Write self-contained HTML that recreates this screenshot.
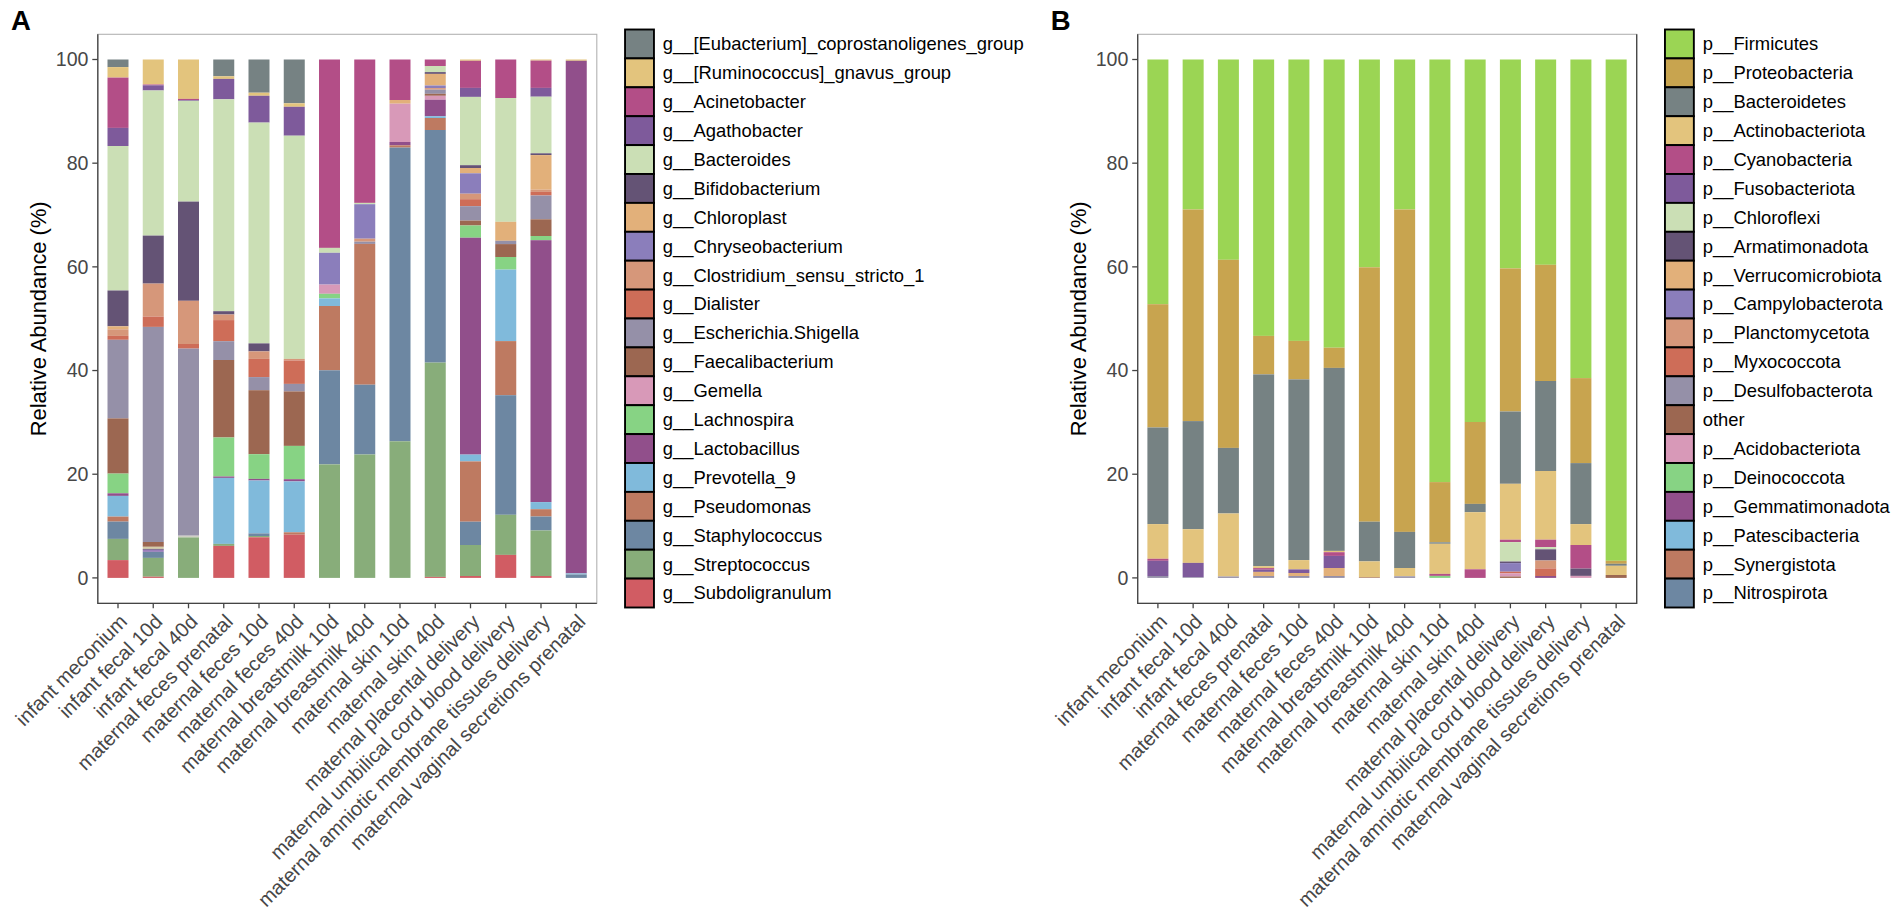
<!DOCTYPE html>
<html lang="en"><head><meta charset="utf-8"><title>Relative abundance</title>
<style>
html,body{margin:0;padding:0;background:#fff;}
svg{display:block;font-family:"Liberation Sans",Arial,Helvetica,sans-serif;}
</style></head><body>
<svg width="1901" height="918" viewBox="0 0 1901 918">
<rect width="1901" height="918" fill="#fff"/>
<g transform="translate(0,0)">
<rect x="107.5" y="59.5" width="21" height="7.6" fill="#768283"/>
<rect x="107.5" y="67.1" width="21" height="10.5" fill="#E3C47D"/>
<rect x="107.5" y="77.6" width="21" height="50.3" fill="#B34E87"/>
<rect x="107.5" y="127.9" width="21" height="18.1" fill="#7E5A9B"/>
<rect x="107.5" y="146" width="21" height="144.5" fill="#CBDFB5"/>
<rect x="107.5" y="290.5" width="21" height="35.8" fill="#645375"/>
<rect x="107.5" y="326.3" width="21" height="3" fill="#E2B07A"/>
<rect x="107.5" y="329.3" width="21" height="6.6" fill="#D6977A"/>
<rect x="107.5" y="335.9" width="21" height="3.9" fill="#CE6D58"/>
<rect x="107.5" y="339.8" width="21" height="78.6" fill="#9590A8"/>
<rect x="107.5" y="418.4" width="21" height="55.2" fill="#9C6751"/>
<rect x="107.5" y="473.6" width="21" height="19.7" fill="#87D384"/>
<rect x="107.5" y="493.3" width="21" height="2.6" fill="#914F8B"/>
<rect x="107.5" y="495.9" width="21" height="20.7" fill="#80BADB"/>
<rect x="107.5" y="516.6" width="21" height="5" fill="#BE7A61"/>
<rect x="107.5" y="521.6" width="21" height="17.3" fill="#6D87A2"/>
<rect x="107.5" y="538.9" width="21" height="21.2" fill="#88AD7A"/>
<rect x="107.5" y="560.1" width="21" height="17.8" fill="#D15C63"/>
<rect x="142.75" y="59.5" width="21" height="25" fill="#E3C47D"/>
<rect x="142.75" y="84.5" width="21" height="0.8" fill="#B34E87"/>
<rect x="142.75" y="85.3" width="21" height="5.2" fill="#7E5A9B"/>
<rect x="142.75" y="90.5" width="21" height="145.1" fill="#CBDFB5"/>
<rect x="142.75" y="235.6" width="21" height="48" fill="#645375"/>
<rect x="142.75" y="283.6" width="21" height="33" fill="#D6977A"/>
<rect x="142.75" y="316.6" width="21" height="10.3" fill="#CE6D58"/>
<rect x="142.75" y="326.9" width="21" height="215.1" fill="#9590A8"/>
<rect x="142.75" y="542" width="21" height="4.8" fill="#9C6751"/>
<rect x="142.75" y="546.8" width="21" height="2.1" fill="#D4CDA8"/>
<rect x="142.75" y="548.9" width="21" height="0.9" fill="#645375"/>
<rect x="142.75" y="549.8" width="21" height="2.1" fill="#9B7DBB"/>
<rect x="142.75" y="551.9" width="21" height="6" fill="#6D87A2"/>
<rect x="142.75" y="557.9" width="21" height="18.8" fill="#88AD7A"/>
<rect x="142.75" y="576.7" width="21" height="1.2" fill="#D15C63"/>
<rect x="178" y="59.5" width="21" height="39.4" fill="#E3C47D"/>
<rect x="178" y="98.9" width="21" height="1.1" fill="#B34E87"/>
<rect x="178" y="100" width="21" height="0.8" fill="#7E5A9B"/>
<rect x="178" y="100.8" width="21" height="100.8" fill="#CBDFB5"/>
<rect x="178" y="201.6" width="21" height="99.2" fill="#645375"/>
<rect x="178" y="300.8" width="21" height="43.2" fill="#D6977A"/>
<rect x="178" y="344" width="21" height="4.6" fill="#CE6D58"/>
<rect x="178" y="348.6" width="21" height="187.1" fill="#9590A8"/>
<rect x="178" y="535.7" width="21" height="1.7" fill="#CFCFC4"/>
<rect x="178" y="537.4" width="21" height="40.5" fill="#88AD7A"/>
<rect x="213.25" y="59.5" width="21" height="16.8" fill="#768283"/>
<rect x="213.25" y="76.3" width="21" height="2.6" fill="#E3C47D"/>
<rect x="213.25" y="78.9" width="21" height="20.4" fill="#7E5A9B"/>
<rect x="213.25" y="99.3" width="21" height="211.9" fill="#CBDFB5"/>
<rect x="213.25" y="311.2" width="21" height="3.3" fill="#645375"/>
<rect x="213.25" y="314.5" width="21" height="5.6" fill="#D6977A"/>
<rect x="213.25" y="320.1" width="21" height="21.1" fill="#CE6D58"/>
<rect x="213.25" y="341.2" width="21" height="18.8" fill="#9590A8"/>
<rect x="213.25" y="360" width="21" height="77.5" fill="#9C6751"/>
<rect x="213.25" y="437.5" width="21" height="39" fill="#87D384"/>
<rect x="213.25" y="476.5" width="21" height="1.4" fill="#914F8B"/>
<rect x="213.25" y="477.9" width="21" height="66" fill="#80BADB"/>
<rect x="213.25" y="543.9" width="21" height="2" fill="#88AD7A"/>
<rect x="213.25" y="545.9" width="21" height="32" fill="#D15C63"/>
<rect x="248.5" y="59.5" width="21" height="33.2" fill="#768283"/>
<rect x="248.5" y="92.7" width="21" height="3.1" fill="#E3C47D"/>
<rect x="248.5" y="95.8" width="21" height="26.8" fill="#7E5A9B"/>
<rect x="248.5" y="122.6" width="21" height="220.8" fill="#CBDFB5"/>
<rect x="248.5" y="343.4" width="21" height="8" fill="#645375"/>
<rect x="248.5" y="351.4" width="21" height="7.5" fill="#D6977A"/>
<rect x="248.5" y="358.9" width="21" height="18.2" fill="#CE6D58"/>
<rect x="248.5" y="377.1" width="21" height="13.1" fill="#9590A8"/>
<rect x="248.5" y="390.2" width="21" height="64" fill="#9C6751"/>
<rect x="248.5" y="454.2" width="21" height="24.7" fill="#87D384"/>
<rect x="248.5" y="478.9" width="21" height="1.6" fill="#914F8B"/>
<rect x="248.5" y="480.5" width="21" height="52.9" fill="#80BADB"/>
<rect x="248.5" y="533.4" width="21" height="2.6" fill="#6D87A2"/>
<rect x="248.5" y="536" width="21" height="1.3" fill="#88AD7A"/>
<rect x="248.5" y="537.3" width="21" height="40.6" fill="#D15C63"/>
<rect x="283.75" y="59.5" width="21" height="43.8" fill="#768283"/>
<rect x="283.75" y="103.3" width="21" height="3.5" fill="#E3C47D"/>
<rect x="283.75" y="106.8" width="21" height="28.9" fill="#7E5A9B"/>
<rect x="283.75" y="135.7" width="21" height="223.2" fill="#CBDFB5"/>
<rect x="283.75" y="358.9" width="21" height="1.6" fill="#D6977A"/>
<rect x="283.75" y="360.5" width="21" height="23.4" fill="#CE6D58"/>
<rect x="283.75" y="383.9" width="21" height="7.5" fill="#9590A8"/>
<rect x="283.75" y="391.4" width="21" height="54.5" fill="#9C6751"/>
<rect x="283.75" y="445.9" width="21" height="33.3" fill="#87D384"/>
<rect x="283.75" y="479.2" width="21" height="2.2" fill="#914F8B"/>
<rect x="283.75" y="481.4" width="21" height="50.9" fill="#80BADB"/>
<rect x="283.75" y="532.3" width="21" height="2.4" fill="#BE7A61"/>
<rect x="283.75" y="534.7" width="21" height="43.2" fill="#D15C63"/>
<rect x="319" y="59.5" width="21" height="188.4" fill="#B34E87"/>
<rect x="319" y="247.9" width="21" height="4.9" fill="#CBDFB5"/>
<rect x="319" y="252.8" width="21" height="31.8" fill="#8B7EBB"/>
<rect x="319" y="284.6" width="21" height="9.2" fill="#D899B8"/>
<rect x="319" y="293.8" width="21" height="4.6" fill="#87D384"/>
<rect x="319" y="298.4" width="21" height="7.6" fill="#80BADB"/>
<rect x="319" y="306" width="21" height="64.3" fill="#BE7A61"/>
<rect x="319" y="370.3" width="21" height="94.1" fill="#6D87A2"/>
<rect x="319" y="464.4" width="21" height="113.5" fill="#88AD7A"/>
<rect x="354.25" y="59.5" width="21" height="143.4" fill="#B34E87"/>
<rect x="354.25" y="202.9" width="21" height="1.3" fill="#CBDFB5"/>
<rect x="354.25" y="204.2" width="21" height="34.5" fill="#8B7EBB"/>
<rect x="354.25" y="238.7" width="21" height="3" fill="#D6977A"/>
<rect x="354.25" y="241.7" width="21" height="2.2" fill="#9590A8"/>
<rect x="354.25" y="243.9" width="21" height="140.8" fill="#BE7A61"/>
<rect x="354.25" y="384.7" width="21" height="69.8" fill="#6D87A2"/>
<rect x="354.25" y="454.5" width="21" height="123.4" fill="#88AD7A"/>
<rect x="389.5" y="59.5" width="21" height="40.5" fill="#B34E87"/>
<rect x="389.5" y="100" width="21" height="3.7" fill="#E2B07A"/>
<rect x="389.5" y="103.7" width="21" height="38.3" fill="#D899B8"/>
<rect x="389.5" y="142" width="21" height="3.3" fill="#914F8B"/>
<rect x="389.5" y="145.3" width="21" height="2.3" fill="#BE7A61"/>
<rect x="389.5" y="147.6" width="21" height="293.7" fill="#6D87A2"/>
<rect x="389.5" y="441.3" width="21" height="136.6" fill="#88AD7A"/>
<rect x="424.75" y="59.5" width="21" height="6.5" fill="#B34E87"/>
<rect x="424.75" y="66" width="21" height="6.1" fill="#CBDFB5"/>
<rect x="424.75" y="72.1" width="21" height="1.8" fill="#645375"/>
<rect x="424.75" y="73.9" width="21" height="11.6" fill="#E2B07A"/>
<rect x="424.75" y="85.5" width="21" height="2.6" fill="#8B7EBB"/>
<rect x="424.75" y="88.1" width="21" height="1.6" fill="#D6977A"/>
<rect x="424.75" y="89.7" width="21" height="4.1" fill="#9590A8"/>
<rect x="424.75" y="93.8" width="21" height="2" fill="#9C6751"/>
<rect x="424.75" y="95.8" width="21" height="3.9" fill="#D899B8"/>
<rect x="424.75" y="99.7" width="21" height="16.5" fill="#914F8B"/>
<rect x="424.75" y="116.2" width="21" height="1.8" fill="#80BADB"/>
<rect x="424.75" y="118" width="21" height="12" fill="#BE7A61"/>
<rect x="424.75" y="130" width="21" height="232.6" fill="#6D87A2"/>
<rect x="424.75" y="362.6" width="21" height="214.3" fill="#88AD7A"/>
<rect x="424.75" y="576.9" width="21" height="1" fill="#D15C63"/>
<rect x="460" y="59.5" width="21" height="1.3" fill="#E3C47D"/>
<rect x="460" y="60.8" width="21" height="27.1" fill="#B34E87"/>
<rect x="460" y="87.9" width="21" height="9" fill="#7E5A9B"/>
<rect x="460" y="96.9" width="21" height="68.3" fill="#CBDFB5"/>
<rect x="460" y="165.2" width="21" height="2.8" fill="#645375"/>
<rect x="460" y="168" width="21" height="5.3" fill="#E2B07A"/>
<rect x="460" y="173.3" width="21" height="20.4" fill="#8B7EBB"/>
<rect x="460" y="193.7" width="21" height="5.5" fill="#D6977A"/>
<rect x="460" y="199.2" width="21" height="7" fill="#CE6D58"/>
<rect x="460" y="206.2" width="21" height="14.4" fill="#9590A8"/>
<rect x="460" y="220.6" width="21" height="4.9" fill="#9C6751"/>
<rect x="460" y="225.5" width="21" height="12.2" fill="#87D384"/>
<rect x="460" y="237.7" width="21" height="216.9" fill="#914F8B"/>
<rect x="460" y="454.6" width="21" height="6.8" fill="#80BADB"/>
<rect x="460" y="461.4" width="21" height="60.3" fill="#BE7A61"/>
<rect x="460" y="521.7" width="21" height="23.3" fill="#6D87A2"/>
<rect x="460" y="545" width="21" height="31" fill="#88AD7A"/>
<rect x="460" y="576" width="21" height="1.9" fill="#D15C63"/>
<rect x="495.25" y="59.5" width="21" height="38.5" fill="#B34E87"/>
<rect x="495.25" y="98" width="21" height="123.8" fill="#CBDFB5"/>
<rect x="495.25" y="221.8" width="21" height="19" fill="#E2B07A"/>
<rect x="495.25" y="240.8" width="21" height="3.3" fill="#9590A8"/>
<rect x="495.25" y="244.1" width="21" height="12.9" fill="#9C6751"/>
<rect x="495.25" y="257" width="21" height="12.6" fill="#87D384"/>
<rect x="495.25" y="269.6" width="21" height="71.5" fill="#80BADB"/>
<rect x="495.25" y="341.1" width="21" height="54.1" fill="#BE7A61"/>
<rect x="495.25" y="395.2" width="21" height="119.6" fill="#6D87A2"/>
<rect x="495.25" y="514.8" width="21" height="40.1" fill="#88AD7A"/>
<rect x="495.25" y="554.9" width="21" height="23" fill="#D15C63"/>
<rect x="530.5" y="59.5" width="21" height="1.1" fill="#E3C47D"/>
<rect x="530.5" y="60.6" width="21" height="27.3" fill="#B34E87"/>
<rect x="530.5" y="87.9" width="21" height="8.8" fill="#7E5A9B"/>
<rect x="530.5" y="96.7" width="21" height="56.6" fill="#CBDFB5"/>
<rect x="530.5" y="153.3" width="21" height="1.8" fill="#645375"/>
<rect x="530.5" y="155.1" width="21" height="34.6" fill="#E2B07A"/>
<rect x="530.5" y="189.7" width="21" height="2.2" fill="#D6977A"/>
<rect x="530.5" y="191.9" width="21" height="3.6" fill="#CE6D58"/>
<rect x="530.5" y="195.5" width="21" height="23.8" fill="#9590A8"/>
<rect x="530.5" y="219.3" width="21" height="16.7" fill="#9C6751"/>
<rect x="530.5" y="236" width="21" height="4.2" fill="#87D384"/>
<rect x="530.5" y="240.2" width="21" height="261.9" fill="#914F8B"/>
<rect x="530.5" y="502.1" width="21" height="7.1" fill="#80BADB"/>
<rect x="530.5" y="509.2" width="21" height="7.3" fill="#BE7A61"/>
<rect x="530.5" y="516.5" width="21" height="14" fill="#6D87A2"/>
<rect x="530.5" y="530.5" width="21" height="45.5" fill="#88AD7A"/>
<rect x="530.5" y="576" width="21" height="1.9" fill="#D15C63"/>
<rect x="565.75" y="59.5" width="21" height="1.3" fill="#E3C47D"/>
<rect x="565.75" y="60.8" width="21" height="512.6" fill="#914F8B"/>
<rect x="565.75" y="573.4" width="21" height="1.1" fill="#80BADB"/>
<rect x="565.75" y="574.5" width="21" height="3.4" fill="#6D87A2"/>
<rect x="97.8" y="34.3" width="499" height="569" fill="none" stroke="#B3B3B3" stroke-width="1.1"/>
<path d="M97.8 34.3V603.3H596.8" fill="none" stroke="#444444" stroke-width="1.3"/>
<path d="M92.3 577.9H97.8" stroke="#444444" stroke-width="1.3"/>
<text x="88.5" y="584.6" text-anchor="end" font-size="19.6" fill="#474747">0</text>
<path d="M92.3 474.22H97.8" stroke="#444444" stroke-width="1.3"/>
<text x="88.5" y="480.92" text-anchor="end" font-size="19.6" fill="#474747">20</text>
<path d="M92.3 370.54H97.8" stroke="#444444" stroke-width="1.3"/>
<text x="88.5" y="377.24" text-anchor="end" font-size="19.6" fill="#474747">40</text>
<path d="M92.3 266.86H97.8" stroke="#444444" stroke-width="1.3"/>
<text x="88.5" y="273.56" text-anchor="end" font-size="19.6" fill="#474747">60</text>
<path d="M92.3 163.18H97.8" stroke="#444444" stroke-width="1.3"/>
<text x="88.5" y="169.88" text-anchor="end" font-size="19.6" fill="#474747">80</text>
<path d="M92.3 59.5H97.8" stroke="#444444" stroke-width="1.3"/>
<text x="88.5" y="66.2" text-anchor="end" font-size="19.6" fill="#474747">100</text>
<path d="M118 603.3V608.3" stroke="#444444" stroke-width="1.3"/>
<text transform="translate(118.1,612.7) rotate(-45)" y="14.47" text-anchor="end" font-size="20.1" fill="#474747">infant meconium</text>
<path d="M153.25 603.3V608.3" stroke="#444444" stroke-width="1.3"/>
<text transform="translate(153.35,612.7) rotate(-45)" y="14.47" text-anchor="end" font-size="20.1" fill="#474747">infant fecal 10d</text>
<path d="M188.5 603.3V608.3" stroke="#444444" stroke-width="1.3"/>
<text transform="translate(188.6,612.7) rotate(-45)" y="14.47" text-anchor="end" font-size="20.1" fill="#474747">infant fecal 40d</text>
<path d="M223.75 603.3V608.3" stroke="#444444" stroke-width="1.3"/>
<text transform="translate(223.85,612.7) rotate(-45)" y="14.47" text-anchor="end" font-size="20.1" fill="#474747">maternal feces prenatal</text>
<path d="M259 603.3V608.3" stroke="#444444" stroke-width="1.3"/>
<text transform="translate(259.1,612.7) rotate(-45)" y="14.47" text-anchor="end" font-size="20.1" fill="#474747">maternal feces 10d</text>
<path d="M294.25 603.3V608.3" stroke="#444444" stroke-width="1.3"/>
<text transform="translate(294.35,612.7) rotate(-45)" y="14.47" text-anchor="end" font-size="20.1" fill="#474747">maternal feces 40d</text>
<path d="M329.5 603.3V608.3" stroke="#444444" stroke-width="1.3"/>
<text transform="translate(329.6,612.7) rotate(-45)" y="14.47" text-anchor="end" font-size="20.1" fill="#474747">maternal breastmilk 10d</text>
<path d="M364.75 603.3V608.3" stroke="#444444" stroke-width="1.3"/>
<text transform="translate(364.85,612.7) rotate(-45)" y="14.47" text-anchor="end" font-size="20.1" fill="#474747">maternal breastmilk 40d</text>
<path d="M400 603.3V608.3" stroke="#444444" stroke-width="1.3"/>
<text transform="translate(400.1,612.7) rotate(-45)" y="14.47" text-anchor="end" font-size="20.1" fill="#474747">maternal skin 10d</text>
<path d="M435.25 603.3V608.3" stroke="#444444" stroke-width="1.3"/>
<text transform="translate(435.35,612.7) rotate(-45)" y="14.47" text-anchor="end" font-size="20.1" fill="#474747">maternal skin 40d</text>
<path d="M470.5 603.3V608.3" stroke="#444444" stroke-width="1.3"/>
<text transform="translate(470.6,612.7) rotate(-45)" y="14.47" text-anchor="end" font-size="20.1" fill="#474747">maternal placental delivery</text>
<path d="M505.75 603.3V608.3" stroke="#444444" stroke-width="1.3"/>
<text transform="translate(505.85,612.7) rotate(-45)" y="14.47" text-anchor="end" font-size="20.1" fill="#474747">maternal umbilical cord blood delivery</text>
<path d="M541 603.3V608.3" stroke="#444444" stroke-width="1.3"/>
<text transform="translate(541.1,612.7) rotate(-45)" y="14.47" text-anchor="end" font-size="20.1" fill="#474747">maternal amniotic membrane tissues delivery</text>
<path d="M576.25 603.3V608.3" stroke="#444444" stroke-width="1.3"/>
<text transform="translate(576.35,612.7) rotate(-45)" y="14.47" text-anchor="end" font-size="20.1" fill="#474747">maternal vaginal secretions prenatal</text>
<text transform="translate(46.4,318.8) rotate(-90)" text-anchor="middle" font-size="21.9" fill="#000">Relative Abundance (%)</text>
<text x="11" y="30.2" font-size="27.5" font-weight="bold" fill="#000">A</text>
<rect x="625.05" y="29.5" width="28.9" height="28.9" fill="#768283" stroke="#000" stroke-width="1.9"/>
<text x="662.8" y="50.35" font-size="18.4" fill="#000">g__[Eubacterium]_coprostanoligenes_group</text>
<rect x="625.05" y="58.4" width="28.9" height="28.9" fill="#E3C47D" stroke="#000" stroke-width="1.9"/>
<text x="662.8" y="79.25" font-size="18.4" fill="#000">g__[Ruminococcus]_gnavus_group</text>
<rect x="625.05" y="87.3" width="28.9" height="28.9" fill="#B34E87" stroke="#000" stroke-width="1.9"/>
<text x="662.8" y="108.15" font-size="18.4" fill="#000">g__Acinetobacter</text>
<rect x="625.05" y="116.2" width="28.9" height="28.9" fill="#7E5A9B" stroke="#000" stroke-width="1.9"/>
<text x="662.8" y="137.05" font-size="18.4" fill="#000">g__Agathobacter</text>
<rect x="625.05" y="145.1" width="28.9" height="28.9" fill="#CBDFB5" stroke="#000" stroke-width="1.9"/>
<text x="662.8" y="165.95" font-size="18.4" fill="#000">g__Bacteroides</text>
<rect x="625.05" y="174" width="28.9" height="28.9" fill="#645375" stroke="#000" stroke-width="1.9"/>
<text x="662.8" y="194.85" font-size="18.4" fill="#000">g__Bifidobacterium</text>
<rect x="625.05" y="202.9" width="28.9" height="28.9" fill="#E2B07A" stroke="#000" stroke-width="1.9"/>
<text x="662.8" y="223.75" font-size="18.4" fill="#000">g__Chloroplast</text>
<rect x="625.05" y="231.8" width="28.9" height="28.9" fill="#8B7EBB" stroke="#000" stroke-width="1.9"/>
<text x="662.8" y="252.65" font-size="18.4" fill="#000">g__Chryseobacterium</text>
<rect x="625.05" y="260.7" width="28.9" height="28.9" fill="#D6977A" stroke="#000" stroke-width="1.9"/>
<text x="662.8" y="281.55" font-size="18.4" fill="#000">g__Clostridium_sensu_stricto_1</text>
<rect x="625.05" y="289.6" width="28.9" height="28.9" fill="#CE6D58" stroke="#000" stroke-width="1.9"/>
<text x="662.8" y="310.45" font-size="18.4" fill="#000">g__Dialister</text>
<rect x="625.05" y="318.5" width="28.9" height="28.9" fill="#9590A8" stroke="#000" stroke-width="1.9"/>
<text x="662.8" y="339.35" font-size="18.4" fill="#000">g__Escherichia.Shigella</text>
<rect x="625.05" y="347.4" width="28.9" height="28.9" fill="#9C6751" stroke="#000" stroke-width="1.9"/>
<text x="662.8" y="368.25" font-size="18.4" fill="#000">g__Faecalibacterium</text>
<rect x="625.05" y="376.3" width="28.9" height="28.9" fill="#D899B8" stroke="#000" stroke-width="1.9"/>
<text x="662.8" y="397.15" font-size="18.4" fill="#000">g__Gemella</text>
<rect x="625.05" y="405.2" width="28.9" height="28.9" fill="#87D384" stroke="#000" stroke-width="1.9"/>
<text x="662.8" y="426.05" font-size="18.4" fill="#000">g__Lachnospira</text>
<rect x="625.05" y="434.1" width="28.9" height="28.9" fill="#914F8B" stroke="#000" stroke-width="1.9"/>
<text x="662.8" y="454.95" font-size="18.4" fill="#000">g__Lactobacillus</text>
<rect x="625.05" y="463" width="28.9" height="28.9" fill="#80BADB" stroke="#000" stroke-width="1.9"/>
<text x="662.8" y="483.85" font-size="18.4" fill="#000">g__Prevotella_9</text>
<rect x="625.05" y="491.9" width="28.9" height="28.9" fill="#BE7A61" stroke="#000" stroke-width="1.9"/>
<text x="662.8" y="512.75" font-size="18.4" fill="#000">g__Pseudomonas</text>
<rect x="625.05" y="520.8" width="28.9" height="28.9" fill="#6D87A2" stroke="#000" stroke-width="1.9"/>
<text x="662.8" y="541.65" font-size="18.4" fill="#000">g__Staphylococcus</text>
<rect x="625.05" y="549.7" width="28.9" height="28.9" fill="#88AD7A" stroke="#000" stroke-width="1.9"/>
<text x="662.8" y="570.55" font-size="18.4" fill="#000">g__Streptococcus</text>
<rect x="625.05" y="578.6" width="28.9" height="28.9" fill="#D15C63" stroke="#000" stroke-width="1.9"/>
<text x="662.8" y="599.45" font-size="18.4" fill="#000">g__Subdoligranulum</text>
</g>
<g transform="translate(1039.9,0)">
<rect x="107.5" y="59.5" width="21" height="244.7" fill="#9BD554"/>
<rect x="107.5" y="304.2" width="21" height="123.3" fill="#C8A44F"/>
<rect x="107.5" y="427.5" width="21" height="96.6" fill="#768283"/>
<rect x="107.5" y="524.1" width="21" height="34.7" fill="#E3C47D"/>
<rect x="107.5" y="558.8" width="21" height="2" fill="#B34E87"/>
<rect x="107.5" y="560.8" width="21" height="15.2" fill="#7E5A9B"/>
<rect x="107.5" y="576" width="21" height="1.9" fill="#9590A8"/>
<rect x="142.75" y="59.5" width="21" height="150" fill="#9BD554"/>
<rect x="142.75" y="209.5" width="21" height="211.6" fill="#C8A44F"/>
<rect x="142.75" y="421.1" width="21" height="108.1" fill="#768283"/>
<rect x="142.75" y="529.2" width="21" height="33.7" fill="#E3C47D"/>
<rect x="142.75" y="562.9" width="21" height="14.3" fill="#7E5A9B"/>
<rect x="142.75" y="577.2" width="21" height="0.7" fill="#9590A8"/>
<rect x="178" y="59.5" width="21" height="200.3" fill="#9BD554"/>
<rect x="178" y="259.8" width="21" height="188.1" fill="#C8A44F"/>
<rect x="178" y="447.9" width="21" height="65.6" fill="#768283"/>
<rect x="178" y="513.5" width="21" height="63" fill="#E3C47D"/>
<rect x="178" y="576.5" width="21" height="1.4" fill="#9590A8"/>
<rect x="213.25" y="59.5" width="21" height="276.4" fill="#9BD554"/>
<rect x="213.25" y="335.9" width="21" height="38.5" fill="#C8A44F"/>
<rect x="213.25" y="374.4" width="21" height="191.8" fill="#768283"/>
<rect x="213.25" y="566.2" width="21" height="1.9" fill="#E3C47D"/>
<rect x="213.25" y="568.1" width="21" height="1.6" fill="#B34E87"/>
<rect x="213.25" y="569.7" width="21" height="2.2" fill="#7E5A9B"/>
<rect x="213.25" y="571.9" width="21" height="4.1" fill="#E2B07A"/>
<rect x="213.25" y="576" width="21" height="1.9" fill="#9590A8"/>
<rect x="248.5" y="59.5" width="21" height="281.4" fill="#9BD554"/>
<rect x="248.5" y="340.9" width="21" height="38.5" fill="#C8A44F"/>
<rect x="248.5" y="379.4" width="21" height="180.7" fill="#768283"/>
<rect x="248.5" y="560.1" width="21" height="9.3" fill="#E3C47D"/>
<rect x="248.5" y="569.4" width="21" height="3.6" fill="#7E5A9B"/>
<rect x="248.5" y="573" width="21" height="3" fill="#E2B07A"/>
<rect x="248.5" y="576" width="21" height="1.9" fill="#9590A8"/>
<rect x="283.75" y="59.5" width="21" height="288.2" fill="#9BD554"/>
<rect x="283.75" y="347.7" width="21" height="20.2" fill="#C8A44F"/>
<rect x="283.75" y="367.9" width="21" height="183" fill="#768283"/>
<rect x="283.75" y="550.9" width="21" height="1.3" fill="#E3C47D"/>
<rect x="283.75" y="552.2" width="21" height="3.7" fill="#B34E87"/>
<rect x="283.75" y="555.9" width="21" height="12.1" fill="#7E5A9B"/>
<rect x="283.75" y="568" width="21" height="8" fill="#E2B07A"/>
<rect x="283.75" y="576" width="21" height="1.9" fill="#9590A8"/>
<rect x="319" y="59.5" width="21" height="207.8" fill="#9BD554"/>
<rect x="319" y="267.3" width="21" height="254.4" fill="#C8A44F"/>
<rect x="319" y="521.7" width="21" height="39.7" fill="#768283"/>
<rect x="319" y="561.4" width="21" height="15.9" fill="#E3C47D"/>
<rect x="319" y="577.3" width="21" height="0.6" fill="#9C6751"/>
<rect x="354.25" y="59.5" width="21" height="150" fill="#9BD554"/>
<rect x="354.25" y="209.5" width="21" height="322.4" fill="#C8A44F"/>
<rect x="354.25" y="531.9" width="21" height="36.1" fill="#768283"/>
<rect x="354.25" y="568" width="21" height="8.3" fill="#E3C47D"/>
<rect x="354.25" y="576.3" width="21" height="1.6" fill="#9590A8"/>
<rect x="389.5" y="59.5" width="21" height="422.6" fill="#9BD554"/>
<rect x="389.5" y="482.1" width="21" height="60.2" fill="#C8A44F"/>
<rect x="389.5" y="542.3" width="21" height="1.5" fill="#768283"/>
<rect x="389.5" y="543.8" width="21" height="30.1" fill="#E3C47D"/>
<rect x="389.5" y="573.9" width="21" height="2" fill="#B34E87"/>
<rect x="389.5" y="575.9" width="21" height="2" fill="#87D384"/>
<rect x="424.75" y="59.5" width="21" height="362.5" fill="#9BD554"/>
<rect x="424.75" y="422" width="21" height="81.9" fill="#C8A44F"/>
<rect x="424.75" y="503.9" width="21" height="8.3" fill="#768283"/>
<rect x="424.75" y="512.2" width="21" height="57.1" fill="#E3C47D"/>
<rect x="424.75" y="569.3" width="21" height="8.6" fill="#B34E87"/>
<rect x="460" y="59.5" width="21" height="208.9" fill="#9BD554"/>
<rect x="460" y="268.4" width="21" height="143.1" fill="#C8A44F"/>
<rect x="460" y="411.5" width="21" height="72.3" fill="#768283"/>
<rect x="460" y="483.8" width="21" height="55.9" fill="#E3C47D"/>
<rect x="460" y="539.7" width="21" height="2.4" fill="#B34E87"/>
<rect x="460" y="542.1" width="21" height="19.4" fill="#CBDFB5"/>
<rect x="460" y="561.5" width="21" height="1.6" fill="#645375"/>
<rect x="460" y="563.1" width="21" height="8.6" fill="#8B7EBB"/>
<rect x="460" y="571.7" width="21" height="1.7" fill="#CE6D58"/>
<rect x="460" y="573.4" width="21" height="3.1" fill="#D899B8"/>
<rect x="460" y="576.5" width="21" height="1.4" fill="#9C6751"/>
<rect x="495.25" y="59.5" width="21" height="205.3" fill="#9BD554"/>
<rect x="495.25" y="264.8" width="21" height="116.2" fill="#C8A44F"/>
<rect x="495.25" y="381" width="21" height="90" fill="#768283"/>
<rect x="495.25" y="471" width="21" height="68.7" fill="#E3C47D"/>
<rect x="495.25" y="539.7" width="21" height="7.4" fill="#B34E87"/>
<rect x="495.25" y="547.1" width="21" height="2.2" fill="#CBDFB5"/>
<rect x="495.25" y="549.3" width="21" height="11.2" fill="#645375"/>
<rect x="495.25" y="560.5" width="21" height="7.9" fill="#D6977A"/>
<rect x="495.25" y="568.4" width="21" height="7.6" fill="#CE6D58"/>
<rect x="495.25" y="576" width="21" height="1.9" fill="#914F8B"/>
<rect x="530.5" y="59.5" width="21" height="318.6" fill="#9BD554"/>
<rect x="530.5" y="378.1" width="21" height="85" fill="#C8A44F"/>
<rect x="530.5" y="463.1" width="21" height="61" fill="#768283"/>
<rect x="530.5" y="524.1" width="21" height="20.9" fill="#E3C47D"/>
<rect x="530.5" y="545" width="21" height="23.6" fill="#B34E87"/>
<rect x="530.5" y="568.6" width="21" height="7.3" fill="#645375"/>
<rect x="530.5" y="575.9" width="21" height="2" fill="#D899B8"/>
<rect x="565.75" y="59.5" width="21" height="501.3" fill="#9BD554"/>
<rect x="565.75" y="560.8" width="21" height="3" fill="#C8A44F"/>
<rect x="565.75" y="563.8" width="21" height="2" fill="#768283"/>
<rect x="565.75" y="565.8" width="21" height="9.2" fill="#E3C47D"/>
<rect x="565.75" y="575" width="21" height="2.9" fill="#9C6751"/>
<rect x="97.8" y="34.3" width="499" height="569" fill="none" stroke="#B3B3B3" stroke-width="1.1"/>
<path d="M97.8 34.3V603.3H596.8V34.3" fill="none" stroke="#444444" stroke-width="1.3"/>
<path d="M92.3 577.9H97.8" stroke="#444444" stroke-width="1.3"/>
<text x="88.5" y="584.6" text-anchor="end" font-size="19.6" fill="#474747">0</text>
<path d="M92.3 474.22H97.8" stroke="#444444" stroke-width="1.3"/>
<text x="88.5" y="480.92" text-anchor="end" font-size="19.6" fill="#474747">20</text>
<path d="M92.3 370.54H97.8" stroke="#444444" stroke-width="1.3"/>
<text x="88.5" y="377.24" text-anchor="end" font-size="19.6" fill="#474747">40</text>
<path d="M92.3 266.86H97.8" stroke="#444444" stroke-width="1.3"/>
<text x="88.5" y="273.56" text-anchor="end" font-size="19.6" fill="#474747">60</text>
<path d="M92.3 163.18H97.8" stroke="#444444" stroke-width="1.3"/>
<text x="88.5" y="169.88" text-anchor="end" font-size="19.6" fill="#474747">80</text>
<path d="M92.3 59.5H97.8" stroke="#444444" stroke-width="1.3"/>
<text x="88.5" y="66.2" text-anchor="end" font-size="19.6" fill="#474747">100</text>
<path d="M118 603.3V608.3" stroke="#444444" stroke-width="1.3"/>
<text transform="translate(118.1,612.7) rotate(-45)" y="14.47" text-anchor="end" font-size="20.1" fill="#474747">infant meconium</text>
<path d="M153.25 603.3V608.3" stroke="#444444" stroke-width="1.3"/>
<text transform="translate(153.35,612.7) rotate(-45)" y="14.47" text-anchor="end" font-size="20.1" fill="#474747">infant fecal 10d</text>
<path d="M188.5 603.3V608.3" stroke="#444444" stroke-width="1.3"/>
<text transform="translate(188.6,612.7) rotate(-45)" y="14.47" text-anchor="end" font-size="20.1" fill="#474747">infant fecal 40d</text>
<path d="M223.75 603.3V608.3" stroke="#444444" stroke-width="1.3"/>
<text transform="translate(223.85,612.7) rotate(-45)" y="14.47" text-anchor="end" font-size="20.1" fill="#474747">maternal feces prenatal</text>
<path d="M259 603.3V608.3" stroke="#444444" stroke-width="1.3"/>
<text transform="translate(259.1,612.7) rotate(-45)" y="14.47" text-anchor="end" font-size="20.1" fill="#474747">maternal feces 10d</text>
<path d="M294.25 603.3V608.3" stroke="#444444" stroke-width="1.3"/>
<text transform="translate(294.35,612.7) rotate(-45)" y="14.47" text-anchor="end" font-size="20.1" fill="#474747">maternal feces 40d</text>
<path d="M329.5 603.3V608.3" stroke="#444444" stroke-width="1.3"/>
<text transform="translate(329.6,612.7) rotate(-45)" y="14.47" text-anchor="end" font-size="20.1" fill="#474747">maternal breastmilk 10d</text>
<path d="M364.75 603.3V608.3" stroke="#444444" stroke-width="1.3"/>
<text transform="translate(364.85,612.7) rotate(-45)" y="14.47" text-anchor="end" font-size="20.1" fill="#474747">maternal breastmilk 40d</text>
<path d="M400 603.3V608.3" stroke="#444444" stroke-width="1.3"/>
<text transform="translate(400.1,612.7) rotate(-45)" y="14.47" text-anchor="end" font-size="20.1" fill="#474747">maternal skin 10d</text>
<path d="M435.25 603.3V608.3" stroke="#444444" stroke-width="1.3"/>
<text transform="translate(435.35,612.7) rotate(-45)" y="14.47" text-anchor="end" font-size="20.1" fill="#474747">maternal skin 40d</text>
<path d="M470.5 603.3V608.3" stroke="#444444" stroke-width="1.3"/>
<text transform="translate(470.6,612.7) rotate(-45)" y="14.47" text-anchor="end" font-size="20.1" fill="#474747">maternal placental delivery</text>
<path d="M505.75 603.3V608.3" stroke="#444444" stroke-width="1.3"/>
<text transform="translate(505.85,612.7) rotate(-45)" y="14.47" text-anchor="end" font-size="20.1" fill="#474747">maternal umbilical cord blood delivery</text>
<path d="M541 603.3V608.3" stroke="#444444" stroke-width="1.3"/>
<text transform="translate(541.1,612.7) rotate(-45)" y="14.47" text-anchor="end" font-size="20.1" fill="#474747">maternal amniotic membrane tissues delivery</text>
<path d="M576.25 603.3V608.3" stroke="#444444" stroke-width="1.3"/>
<text transform="translate(576.35,612.7) rotate(-45)" y="14.47" text-anchor="end" font-size="20.1" fill="#474747">maternal vaginal secretions prenatal</text>
<text transform="translate(46.4,318.8) rotate(-90)" text-anchor="middle" font-size="21.9" fill="#000">Relative Abundance (%)</text>
<text x="10.8" y="30.2" font-size="27.5" font-weight="bold" fill="#000">B</text>
<rect x="625.05" y="29.5" width="28.9" height="28.9" fill="#9BD554" stroke="#000" stroke-width="1.9"/>
<text x="662.8" y="50.35" font-size="18.4" fill="#000">p__Firmicutes</text>
<rect x="625.05" y="58.4" width="28.9" height="28.9" fill="#C8A44F" stroke="#000" stroke-width="1.9"/>
<text x="662.8" y="79.25" font-size="18.4" fill="#000">p__Proteobacteria</text>
<rect x="625.05" y="87.3" width="28.9" height="28.9" fill="#768283" stroke="#000" stroke-width="1.9"/>
<text x="662.8" y="108.15" font-size="18.4" fill="#000">p__Bacteroidetes</text>
<rect x="625.05" y="116.2" width="28.9" height="28.9" fill="#E3C47D" stroke="#000" stroke-width="1.9"/>
<text x="662.8" y="137.05" font-size="18.4" fill="#000">p__Actinobacteriota</text>
<rect x="625.05" y="145.1" width="28.9" height="28.9" fill="#B34E87" stroke="#000" stroke-width="1.9"/>
<text x="662.8" y="165.95" font-size="18.4" fill="#000">p__Cyanobacteria</text>
<rect x="625.05" y="174" width="28.9" height="28.9" fill="#7E5A9B" stroke="#000" stroke-width="1.9"/>
<text x="662.8" y="194.85" font-size="18.4" fill="#000">p__Fusobacteriota</text>
<rect x="625.05" y="202.9" width="28.9" height="28.9" fill="#CBDFB5" stroke="#000" stroke-width="1.9"/>
<text x="662.8" y="223.75" font-size="18.4" fill="#000">p__Chloroflexi</text>
<rect x="625.05" y="231.8" width="28.9" height="28.9" fill="#645375" stroke="#000" stroke-width="1.9"/>
<text x="662.8" y="252.65" font-size="18.4" fill="#000">p__Armatimonadota</text>
<rect x="625.05" y="260.7" width="28.9" height="28.9" fill="#E2B07A" stroke="#000" stroke-width="1.9"/>
<text x="662.8" y="281.55" font-size="18.4" fill="#000">p__Verrucomicrobiota</text>
<rect x="625.05" y="289.6" width="28.9" height="28.9" fill="#8B7EBB" stroke="#000" stroke-width="1.9"/>
<text x="662.8" y="310.45" font-size="18.4" fill="#000">p__Campylobacterota</text>
<rect x="625.05" y="318.5" width="28.9" height="28.9" fill="#D6977A" stroke="#000" stroke-width="1.9"/>
<text x="662.8" y="339.35" font-size="18.4" fill="#000">p__Planctomycetota</text>
<rect x="625.05" y="347.4" width="28.9" height="28.9" fill="#CE6D58" stroke="#000" stroke-width="1.9"/>
<text x="662.8" y="368.25" font-size="18.4" fill="#000">p__Myxococcota</text>
<rect x="625.05" y="376.3" width="28.9" height="28.9" fill="#9590A8" stroke="#000" stroke-width="1.9"/>
<text x="662.8" y="397.15" font-size="18.4" fill="#000">p__Desulfobacterota</text>
<rect x="625.05" y="405.2" width="28.9" height="28.9" fill="#9C6751" stroke="#000" stroke-width="1.9"/>
<text x="662.8" y="426.05" font-size="18.4" fill="#000">other</text>
<rect x="625.05" y="434.1" width="28.9" height="28.9" fill="#D899B8" stroke="#000" stroke-width="1.9"/>
<text x="662.8" y="454.95" font-size="18.4" fill="#000">p__Acidobacteriota</text>
<rect x="625.05" y="463" width="28.9" height="28.9" fill="#87D384" stroke="#000" stroke-width="1.9"/>
<text x="662.8" y="483.85" font-size="18.4" fill="#000">p__Deinococcota</text>
<rect x="625.05" y="491.9" width="28.9" height="28.9" fill="#914F8B" stroke="#000" stroke-width="1.9"/>
<text x="662.8" y="512.75" font-size="18.4" fill="#000">p__Gemmatimonadota</text>
<rect x="625.05" y="520.8" width="28.9" height="28.9" fill="#80BADB" stroke="#000" stroke-width="1.9"/>
<text x="662.8" y="541.65" font-size="18.4" fill="#000">p__Patescibacteria</text>
<rect x="625.05" y="549.7" width="28.9" height="28.9" fill="#BE7A61" stroke="#000" stroke-width="1.9"/>
<text x="662.8" y="570.55" font-size="18.4" fill="#000">p__Synergistota</text>
<rect x="625.05" y="578.6" width="28.9" height="28.9" fill="#6D87A2" stroke="#000" stroke-width="1.9"/>
<text x="662.8" y="599.45" font-size="18.4" fill="#000">p__Nitrospirota</text>
</g>
</svg>
</body></html>
